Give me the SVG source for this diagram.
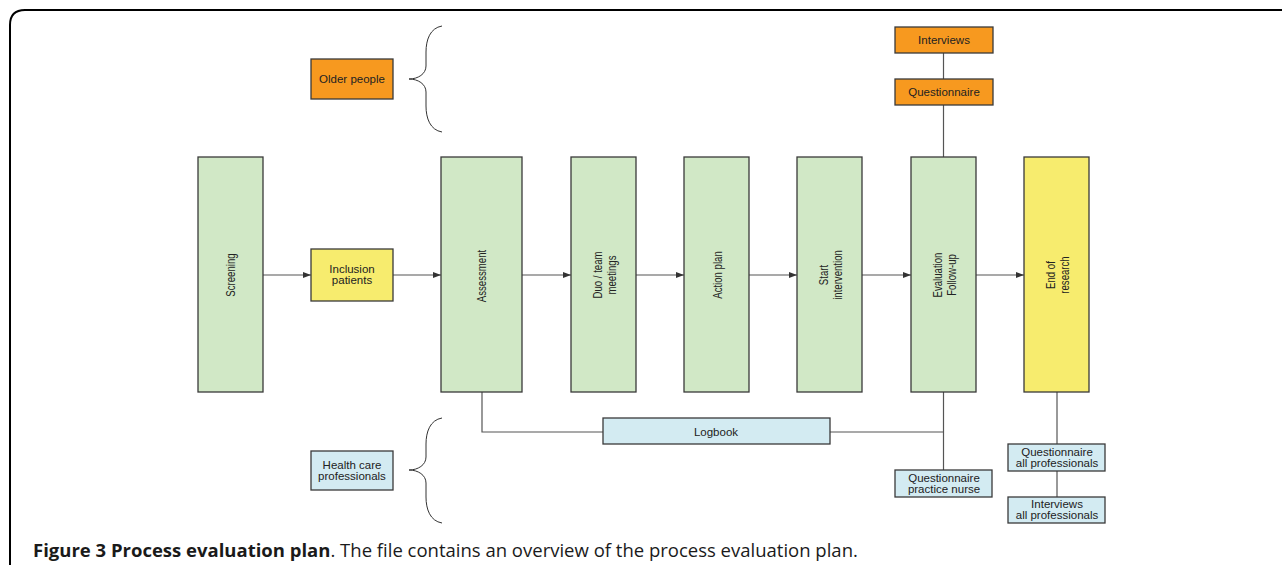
<svg xmlns="http://www.w3.org/2000/svg" width="1282" height="565" viewBox="0 0 1282 565">
  <style>
    .box { stroke: #3a3a3a; stroke-width: 1.3; }
    .green { fill: #d1e8c6; }
    .yellow { fill: #f7ec6e; }
    .orange { fill: #f7991f; }
    .blue { fill: #d3ebf2; }
    .lbl { font-family: "Liberation Sans", Arial, sans-serif; font-size: 11.5px; fill: #222; text-anchor: middle; }
    .vlbl { font-family: "Liberation Sans", Arial, sans-serif; font-size: 13px; fill: #222; text-anchor: middle; }
    .conn { fill: none; stroke: #555; stroke-width: 1.2; }
    .brace { fill: none; stroke: #333; stroke-width: 1; }
    .cap { font-family: "Open Sans", "Liberation Sans", sans-serif; font-size: 18.5px; fill: #1a1a1a; }
  </style>
  <defs>
    <marker id="arr" viewBox="0 0 8 6" refX="8" refY="3" markerWidth="8" markerHeight="6" markerUnits="userSpaceOnUse" orient="auto">
      <path d="M0,0 L8,3 L0,6 Z" fill="#333"/>
    </marker>
  </defs>

  <rect width="1282" height="565" fill="#ffffff"/>

  <!-- figure frame with rounded top-left corner -->
  <path d="M1284,10 H25 Q10,10 10,25 V567" fill="none" stroke="#000" stroke-width="2"/>

  <!-- braces grouping the two audiences -->
  <path class="brace" d="M442,26 C430,28 426,40 426,52 L426,66 C426,74 418,79 409,79 C418,79 426,84 426,92 L426,106 C426,118 430,130 442,132"/>
  <path class="brace" d="M442,418 C430,420 426,432 426,444 L426,457 C426,465 418,470 409,470 C418,470 426,475 426,483 L426,497 C426,509 430,521 442,523"/>

  <g id="connectors">
    <line class="conn" x1="263" y1="275" x2="311" y2="275" marker-end="url(#arr)"/>
    <line class="conn" x1="393" y1="275" x2="441" y2="275" marker-end="url(#arr)"/>
    <line class="conn" x1="522" y1="275" x2="571" y2="275" marker-end="url(#arr)"/>
    <line class="conn" x1="636" y1="275" x2="684" y2="275" marker-end="url(#arr)"/>
    <line class="conn" x1="749" y1="275" x2="797" y2="275" marker-end="url(#arr)"/>
    <line class="conn" x1="862" y1="275" x2="911" y2="275" marker-end="url(#arr)"/>
    <line class="conn" x1="976" y1="275" x2="1024" y2="275" marker-end="url(#arr)"/>
    <line class="conn" x1="943.5" y1="53" x2="943.5" y2="79"/>
    <line class="conn" x1="943.5" y1="105" x2="943.5" y2="157"/>
    <line class="conn" x1="943.5" y1="392" x2="943.5" y2="470"/>
    <polyline class="conn" points="482,392 482,432 603,432"/>
    <line class="conn" x1="830" y1="432" x2="943.5" y2="432"/>
    <line class="conn" x1="1057" y1="392" x2="1057" y2="444"/>
    <line class="conn" x1="1057" y1="471" x2="1057" y2="497"/>
  </g>

  <g id="older-people">
    <rect class="box orange" x="311" y="59" width="82" height="40"/>
    <text class="lbl" x="352" y="83">Older people</text>
  </g>
  <g id="interviews">
    <rect class="box orange" x="895" y="27" width="98" height="26"/>
    <text class="lbl" x="944" y="44">Interviews</text>
  </g>
  <g id="questionnaire">
    <rect class="box orange" x="895" y="79" width="98" height="26"/>
    <text class="lbl" x="944" y="96">Questionnaire</text>
  </g>

  <g id="screening">
    <rect class="box green" x="198" y="157" width="65" height="235"/>
    <text class="vlbl" transform="translate(235 275) rotate(-90) scale(0.74 1)">Screening</text>
  </g>
  <g id="inclusion-patients">
    <rect class="box yellow" x="311" y="249" width="82" height="52"/>
    <text class="lbl" x="352" y="273">Inclusion</text>
    <text class="lbl" x="352" y="284">patients</text>
  </g>
  <g id="assessment">
    <rect class="box green" x="441" y="157" width="81" height="235"/>
    <text class="vlbl" transform="translate(486 276) rotate(-90) scale(0.74 1)">Assessment</text>
  </g>
  <g id="duo-team-meetings">
    <rect class="box green" x="571" y="157" width="65" height="235"/>
    <text class="vlbl" transform="translate(602 275) rotate(-90) scale(0.74 1)"><tspan x="0" y="0">Duo / team</tspan><tspan x="0" y="14">meetings</tspan></text>
  </g>
  <g id="action-plan">
    <rect class="box green" x="684" y="157" width="65" height="235"/>
    <text class="vlbl" transform="translate(722 275) rotate(-90) scale(0.74 1)">Action plan</text>
  </g>
  <g id="start-intervention">
    <rect class="box green" x="797" y="157" width="65" height="235"/>
    <text class="vlbl" transform="translate(828 275) rotate(-90) scale(0.74 1)"><tspan x="0" y="0">Start</tspan><tspan x="0" y="14">intervention</tspan></text>
  </g>
  <g id="evaluation-follow-up">
    <rect class="box green" x="911" y="157" width="65" height="235"/>
    <text class="vlbl" transform="translate(942 275) rotate(-90) scale(0.74 1)"><tspan x="0" y="0">Evaluation</tspan><tspan x="0" y="14">Follow-up</tspan></text>
  </g>
  <g id="end-of-research">
    <rect class="box yellow" x="1024" y="157" width="65" height="235"/>
    <text class="vlbl" transform="translate(1055 275) rotate(-90) scale(0.74 1)"><tspan x="0" y="0">End of</tspan><tspan x="0" y="14">research</tspan></text>
  </g>

  <g id="logbook">
    <rect class="box blue" x="603" y="418" width="227" height="26"/>
    <text class="lbl" x="716" y="436">Logbook</text>
  </g>
  <g id="health-care-professionals">
    <rect class="box blue" x="311" y="451" width="82" height="39"/>
    <text class="lbl" x="352" y="469">Health care</text>
    <text class="lbl" x="352" y="480">professionals</text>
  </g>
  <g id="questionnaire-practice-nurse">
    <rect class="box blue" x="895" y="470" width="97" height="27"/>
    <text class="lbl" x="944" y="482">Questionnaire</text>
    <text class="lbl" x="944" y="493">practice nurse</text>
  </g>
  <g id="questionnaire-all-professionals">
    <rect class="box blue" x="1008" y="444" width="97" height="27"/>
    <text class="lbl" x="1057" y="456">Questionnaire</text>
    <text class="lbl" x="1057" y="467">all professionals</text>
  </g>
  <g id="interviews-all-professionals">
    <rect class="box blue" x="1008" y="497" width="97" height="26"/>
    <text class="lbl" x="1057" y="508">Interviews</text>
    <text class="lbl" x="1057" y="519">all professionals</text>
  </g>

  <!-- caption -->
  <text class="cap" x="33" y="557"><tspan font-weight="bold">Figure 3 Process evaluation plan</tspan>. The file contains an overview of the process evaluation plan.</text>
</svg>
